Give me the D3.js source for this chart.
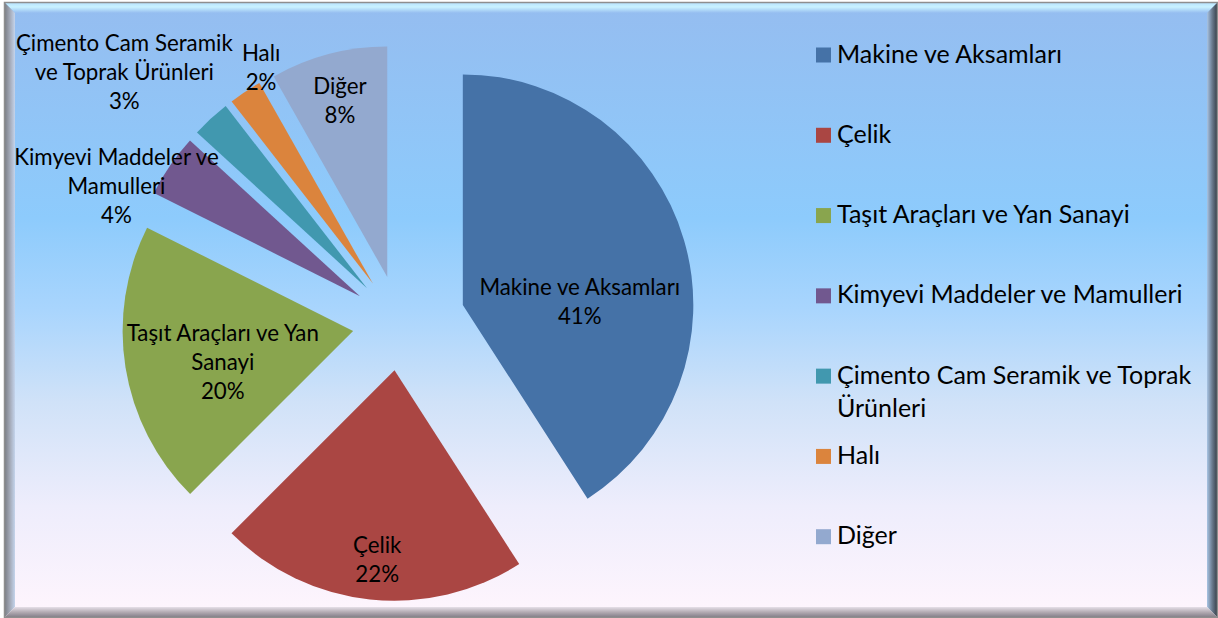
<!DOCTYPE html>
<html>
<head>
<meta charset="utf-8">
<script src="https://cdn.jsdelivr.net/npm/d3@7"></script>
<style>
	body { margin: 0; background: #fff; }
	svg { display: block; }
	text { font-family: Lato, "Open Sans", sans-serif; fill: #000; }
</style>
</head>
<body>
<div id="chart"></div>
<script>
var categories = ["Makine ve Aksamları", "Çelik", "Taşıt Araçları ve Yan Sanayi",
	"Kimyevi Maddeler ve Mamulleri", "Çimento Cam Seramik ve Toprak Ürünleri", "Halı", "Diğer"];
var shares = [40.9, 21.6, 19.9, 4.4, 2.7, 2.3, 8.2];
var colors = ["#4572a7", "#aa4643", "#89a54e", "#71588f", "#4198af", "#db843d", "#93a9cf"];

// layout
var width = 1218, height = 618;
var cx = 399.5, cy = 323.5, radius = 230.5;
var explode = [66, 47, 47, 48, 48, 48, 48];
// label block centre: [angle in degrees, distance] from the exploded slice tip
var labelPolar = [[88.5, 117], [185.2, 191], [256.6, 134], [294.2, 267], [311.7, 325], [332.6, 243], [344.9, 182]];
var labelFont = 22.3, labelLine = 29, labelWrap = 230;
var legendFont = 25, legendLine = 33, legendWrap = 372;

var svg = d3.select("#chart").append("svg")
	.attr("width", width)
	.attr("height", height);

var defs = svg.append("defs");

function grad(id, x2, y2, stops) {
	var lg = defs.append("linearGradient").attr("id", id)
		.attr("x1", 0).attr("y1", 0).attr("x2", x2).attr("y2", y2);
	stops.forEach(function(s) {
		lg.append("stop").attr("offset", s[0]).attr("stop-color", s[1]);
	});
}

grad("bg", 0, 1, [[0, "#95bdf0"], [0.35, "#8dcbfc"], [0.5, "#a9d5fd"], [0.65, "#d0e2f8"], [0.82, "#eeedfc"], [1, "#fff5fd"]]);
grad("bevTop", 0, 1, [[0, "#b8e4ff"], [0.4, "#c9f2ff"], [1, "#95bdf0"]]);
grad("bevLeft", 1, 0, [[0, "#7d8088"], [0.5, "#a4aab8"], [1, "#c4d4ec"]]);
grad("bevRight", 1, 0, [[0, "#a8c4e4"], [0.5, "#6c7c90"], [1, "#39424c"]]);
grad("bevBottom", 0, 1, [[0, "#e6dfe8"], [0.5, "#b4acb4"], [1, "#85808a"]]);

// frame
var x0 = 5, y0 = 3, x1 = 1217, y1 = 617, b = 10;
svg.append("rect")
	.attr("x", x0).attr("y", y0)
	.attr("width", x1 - x0).attr("height", y1 - y0)
	.attr("fill", "url(#bg)");

function poly(pts, fill) {
	svg.append("polygon")
		.attr("points", pts.map(function(p) { return p.join(","); }).join(" "))
		.attr("fill", fill);
}
poly([[x0, y0], [x1, y0], [x1 - b, y0 + b], [x0 + b, y0 + b]], "url(#bevTop)");
poly([[x0, y0], [x0 + b, y0 + b], [x0 + b, y1 - b], [x0, y1]], "url(#bevLeft)");
poly([[x1, y0], [x1, y1], [x1 - b, y1 - b], [x1 - b, y0 + b]], "url(#bevRight)");
poly([[x0, y1], [x0 + b, y1 - b], [x1 - b, y1 - b], [x1, y1]], "url(#bevBottom)");
svg.append("rect")
	.attr("x", x0 - 0.5).attr("y", y0 - 0.5)
	.attr("width", x1 - x0 + 1).attr("height", y1 - y0 + 1)
	.attr("fill", "none")
	.attr("stroke", "#8e8e8e")
	.attr("stroke-width", 1.5);

// word wrap with a hidden measuring text
var meter = svg.append("text").attr("visibility", "hidden");
function wrap(str, size, maxW) {
	meter.style("font-size", size + "px");
	var words = str.split(" "), lines = [], cur = "";
	words.forEach(function(w) {
		var test = cur ? cur + " " + w : w;
		meter.text(test);
		if (cur && meter.node().getComputedTextLength() > maxW) {
			lines.push(cur);
			cur = w;
		} else {
			cur = test;
		}
	});
	if (cur) lines.push(cur);
	return lines;
}

// pie
var total = d3.sum(shares);
var pie = d3.pie().sort(null).value(function(d) { return d; });
var arcs = pie(shares);
var arc = d3.arc().innerRadius(0).outerRadius(radius);

function offset(d, i) {
	var a = (d.startAngle + d.endAngle) / 2;
	return [explode[i] * Math.sin(a), -explode[i] * Math.cos(a)];
}

var g = svg.append("g").attr("transform", "translate(" + cx + "," + cy + ")");

g.selectAll("path.slice")
	.data(arcs)
	.enter().append("path")
	.attr("class", "slice")
	.attr("d", arc)
	.attr("fill", function(d, i) { return colors[i]; })
	.attr("transform", function(d, i) {
		var o = offset(d, i);
		return "translate(" + o[0] + "," + o[1] + ")";
	});

arcs.forEach(function(d, i) {
	var o = offset(d, i);
	var a = labelPolar[i][0] * Math.PI / 180, r = labelPolar[i][1];
	var lx = o[0] + r * Math.sin(a),
		lyc = o[1] - r * Math.cos(a);
	var lines = wrap(categories[i], labelFont, labelWrap);
	lines.push(Math.round(d.value / total * 100) + "%");
	var t = g.append("text")
		.attr("text-anchor", "middle")
		.style("font-size", labelFont + "px");
	lines.forEach(function(s, k) {
		t.append("tspan")
			.attr("x", lx)
			.attr("y", lyc + (k - (lines.length - 1) / 2) * labelLine + 7.5)
			.text(s);
	});
});

// legend
var ly = d3.scalePoint().domain(categories).range([55, 536.7]);
var legend = svg.append("g");
categories.forEach(function(c, i) {
	var y = ly(c);
	legend.append("rect")
		.attr("x", 816).attr("y", y - 7.5)
		.attr("width", 15).attr("height", 15)
		.attr("fill", colors[i]);
	var t = legend.append("text").style("font-size", legendFont + "px");
	wrap(c, legendFont, legendWrap).forEach(function(s, k) {
		t.append("tspan")
			.attr("x", 837)
			.attr("y", y + 7.5 + k * legendLine)
			.text(s);
	});
});
meter.remove();
</script>
</body>
</html>
